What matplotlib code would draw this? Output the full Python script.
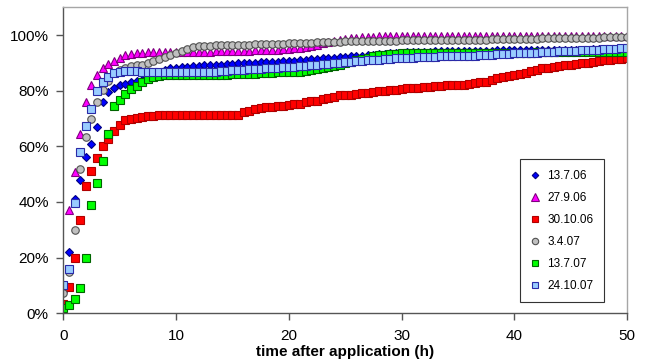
import matplotlib
matplotlib.use("Agg")
import matplotlib.pyplot as plt
from matplotlib.ticker import PercentFormatter

plt.rcParams['font.family'] = ['Liberation Sans', 'DejaVu Sans']

# sampling every half hour, 0 .. 50 h
hours = [i * 0.5 for i in range(101)]

# share of released substance (%) per application date
s_130706 = [10, 22, 41, 48, 56, 61, 67, 76, 79.5, 81, 82, 82.5, 83, 83.5, 84, 85, 86, 86.8, 87.4, 88,
            88.2, 88.4, 88.6, 88.8, 89, 89.1, 89.2, 89.3, 89.4, 89.5, 89.7, 89.8, 89.9, 90, 90.1, 90.2, 90.3, 90.4, 90.5, 90.6,
            90.7, 90.8, 91, 91.1, 91.3, 91.4, 91.6, 91.7, 91.9, 92, 92.2, 92.3, 92.5, 92.6, 92.8, 93, 93.2, 93.3, 93.5, 93.6,
            93.7, 93.8, 93.9, 93.9, 94, 94, 94.1, 94.1, 94.2, 94.2, 94.3, 94.3, 94.3, 94.4, 94.4, 94.4, 94.4, 94.5, 94.5, 94.5,
            94.5, 94.5, 94.6, 94.6, 94.6, 94.6, 94.7, 94.7, 94.7, 94.7, 94.8, 94.8, 94.8, 94.8, 94.9, 94.9, 94.9, 94.9, 95, 95,
            95]

s_270906 = [9, 37, 50.7, 64.4, 76, 82, 85.5, 88, 89.6, 90.8, 91.9, 92.9, 93.3, 93.5, 93.7, 93.8, 93.9, 93.9, 94, 94,
            94, 94, 94, 94, 94, 94, 94, 94.1, 94.1, 94.1, 94.2, 94.2, 94.3, 94.4, 94.5, 94.6, 94.6, 94.7, 94.8, 94.9,
            95, 95.2, 95.5, 95.8, 96.2, 96.6, 97, 97.4, 97.8, 98.2, 98.5, 98.8, 99, 99.2, 99.3, 99.4, 99.5, 99.5, 99.5, 99.5,
            99.5, 99.5, 99.5, 99.5, 99.5, 99.5, 99.5, 99.5, 99.5, 99.5, 99.6, 99.6, 99.6, 99.6, 99.6, 99.6, 99.6, 99.6, 99.6, 99.6,
            99.6, 99.6, 99.6, 99.7, 99.7, 99.7, 99.7, 99.7, 99.7, 99.7, 99.7, 99.7, 99.7, 99.8, 99.8, 99.8, 99.8, 99.8, 99.8, 99.8,
            99.8]

s_301006 = [3.3, 9.6, 19.8, 33.6, 45.8, 51.3, 55.8, 60.3, 62.6, 65.6, 67.7, 69.5, 70, 70.3, 70.6, 70.8, 71, 71.1, 71.2, 71.2,
            71.3, 71.3, 71.3, 71.3, 71.3, 71.3, 71.3, 71.3, 71.3, 71.3, 71.3, 71.3, 72.3, 72.6, 73.3, 73.7, 74.2, 74.3, 74.4, 74.5,
            75, 75.2, 75.4, 76, 76.2, 76.4, 77, 77.3, 77.6, 78.3, 78.5, 78.6, 78.8, 79, 79.3, 79.6, 79.8, 80, 80.1, 80.3,
            80.6, 80.9, 81, 81.1, 81.2, 81.3, 81.6, 81.8, 81.9, 82, 82.1, 82.2, 82.5, 82.7, 83, 83.3, 83.9, 84.4, 84.8, 85.2,
            85.6, 86, 86.5, 87, 87.5, 88, 88.3, 88.6, 88.9, 89.1, 89.4, 89.6, 89.9, 90.1, 90.3, 90.6, 90.9, 91.1, 91.3, 91.5,
            91.7]

s_030407 = [7.2, 15, 30, 52, 63.3, 70, 76, 80.3, 83.5, 86.5, 87.5, 88.3, 88.8, 89.1, 89.4, 90, 90.8, 91.3, 92, 92.7,
            93.5, 94.3, 95.1, 95.6, 95.9, 96.1, 96.2, 96.3, 96.4, 96.4, 96.5, 96.5, 96.6, 96.6, 96.7, 96.7, 96.8, 96.8, 96.9, 96.9,
            97, 97, 97.1, 97.2, 97.3, 97.4, 97.5, 97.5, 97.6, 97.6, 97.7, 97.7, 97.8, 97.8, 97.9, 97.9, 97.9, 98, 98, 98,
            98.1, 98.1, 98.1, 98.2, 98.2, 98.2, 98.2, 98.3, 98.3, 98.3, 98.3, 98.3, 98.4, 98.4, 98.4, 98.4, 98.5, 98.5, 98.5, 98.6,
            98.6, 98.6, 98.7, 98.7, 98.7, 98.8, 98.8, 98.8, 98.9, 98.9, 99, 99, 99, 99.1, 99.1, 99.1, 99.2, 99.2, 99.2, 99.3,
            99.3]

s_130707 = [1.8, 3, 5, 9, 19.8, 39, 46.8, 54.8, 64.5, 74.6, 76.7, 78.8, 80.6, 81.8, 83.3, 84.2, 84.9, 85.4, 85.6, 85.7,
            85.7, 85.7, 85.7, 85.7, 85.7, 85.7, 85.8, 85.8, 85.8, 85.8, 85.9, 85.9, 86, 86, 86.1, 86.2, 86.3, 86.5, 86.6, 86.7,
            86.8, 86.9, 86.9, 87, 87.3, 87.8, 88.2, 88.6, 89, 89.4, 89.9, 90.4, 90.9, 91.4, 91.9, 92.3, 92.7, 93, 93.2, 93.3,
            93.4, 93.4, 93.4, 93.5, 93.5, 93.5, 93.5, 93.5, 93.5, 93.5, 93.6, 93.6, 93.6, 93.6, 93.6, 93.6, 93.6, 93.7, 93.7, 93.7,
            93.7, 93.7, 93.7, 93.7, 93.8, 93.8, 93.8, 93.8, 93.8, 93.8, 93.9, 93.9, 93.9, 93.9, 93.9, 94, 94, 94, 94, 94,
            94]

s_241007 = [10.2, 15.8, 39.6, 57.8, 67.4, 73.5, 80, 83.1, 85.1, 86.3, 86.8, 87, 87, 87, 86.9, 86.9, 86.8, 86.8, 86.8, 86.8,
            86.8, 86.8, 86.8, 86.8, 86.8, 86.8, 86.8, 86.9, 87, 87.2, 87.4, 87.5, 87.6, 87.7, 87.8, 87.9, 88, 88.1, 88.3, 88.4,
            88.5, 88.6, 88.8, 89, 89.1, 89.3, 89.5, 89.7, 89.9, 90.1, 90.3, 90.4, 90.6, 90.8, 90.9, 91.1, 91.2, 91.4, 91.5, 91.6,
            91.7, 91.8, 91.9, 92, 92.1, 92.2, 92.2, 92.3, 92.3, 92.4, 92.4, 92.5, 92.5, 92.6, 92.7, 92.8, 93, 93.1, 93.2, 93.3,
            93.4, 93.5, 93.5, 93.6, 93.7, 93.8, 93.9, 94, 94.1, 94.2, 94.3, 94.4, 94.5, 94.6, 94.7, 94.8, 94.9, 95, 95.1, 95.2,
            95.3]

labels = ["13.7.06", "27.9.06", "30.10.06", "3.4.07", "13.7.07", "24.10.07"]
series = [s_130706, s_270906, s_301006, s_030407, s_130707, s_241007]

# marker, size, face colour, edge colour for each date
styles = [
    ("D", 3.9, "#0000ff", "#000080"),
    ("^", 6.0, "#ff00ff", "#800080"),
    ("s", 5.3, "#ff0000", "#b00000"),
    ("o", 5.4, "#c0c0c0", "#505050"),
    ("s", 5.3, "#00ff00", "#006400"),
    ("s", 5.3, "#99ccff", "#2a2aa8"),
]

fig = plt.figure(figsize=(6.46, 3.63), dpi=100)
ax = fig.add_axes([0.098, 0.137, 0.8726, 0.843])

for vals, lab, (mk, ms, fc, ec) in zip(series, labels, styles):
    ax.plot(hours, vals, linestyle="none", marker=mk, markersize=ms,
            markerfacecolor=fc, markeredgecolor=ec, markeredgewidth=0.8, label=lab)

ax.set_xlim(0, 50)
ax.set_ylim(0, 110)
ax.set_xticks([0, 10, 20, 30, 40, 50])
ax.set_yticks([0, 20, 40, 60, 80, 100])
ax.yaxis.set_major_formatter(PercentFormatter(xmax=100, decimals=0))

ax.spines["left"].set_color("#555555")
ax.spines["bottom"].set_color("#555555")
ax.spines["top"].set_color("#a6a6a6")
ax.spines["right"].set_color("#a6a6a6")
for sp in ax.spines.values():
    sp.set_linewidth(1)

ax.tick_params(direction="out", length=5, width=1, color="#555555", labelsize=11)
ax.tick_params(axis="x", pad=6.5)
ax.tick_params(axis="y", pad=5.5)
ax.set_xlabel("time after application (h)", fontsize=11, fontweight="bold", labelpad=1.5)

leg = ax.legend(loc="upper left", bbox_to_anchor=(0.810, 0.504), fontsize=8.5,
                numpoints=1, markerscale=0.85, handlelength=0.7, handletextpad=0.7,
                labelspacing=0.85, borderpad=0.9, borderaxespad=0, fancybox=False,
                framealpha=1)
leg.get_frame().set_edgecolor("#333333")
leg.get_frame().set_linewidth(0.8)

fig.savefig("out.png", dpi=100)
